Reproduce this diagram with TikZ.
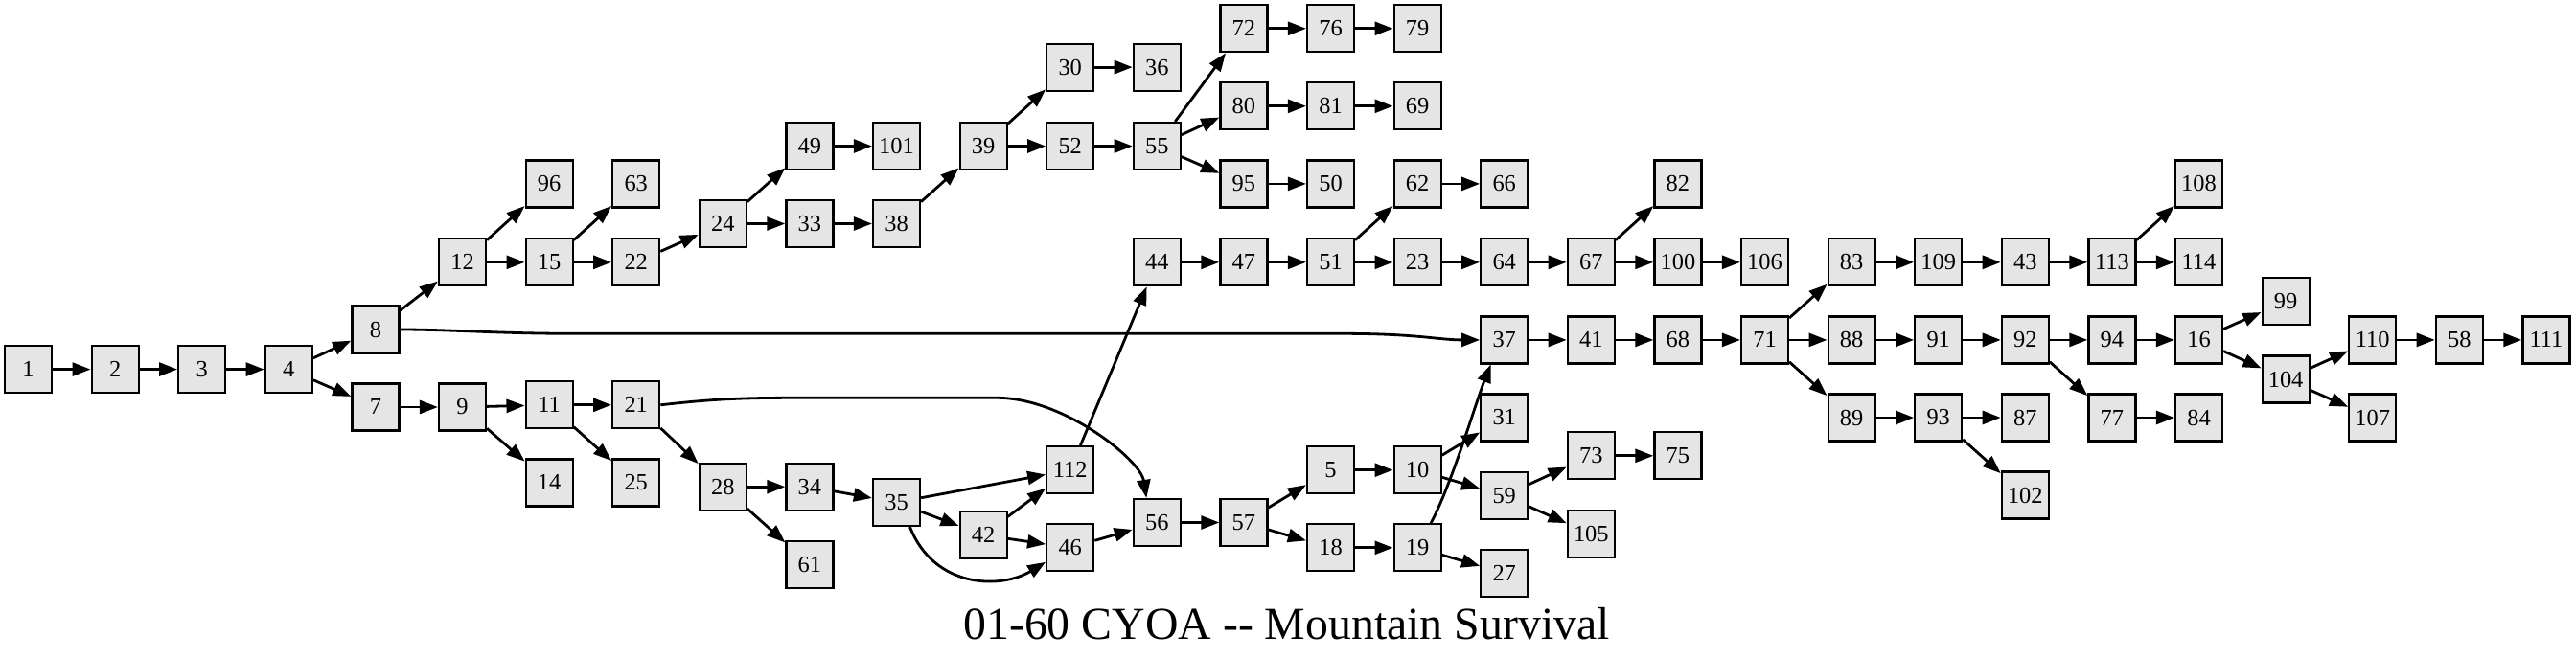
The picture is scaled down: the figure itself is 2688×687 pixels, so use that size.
\documentclass[tikz,border=0pt]{standalone}
\usepackage{fontspec}
\setmainfont{Liberation Serif}
\usetikzlibrary{arrows.meta}
\definecolor{boxgray}{HTML}{E5E5E5}
\newcommand\gnode[3]{\node[gbox] (n#1) at ({29.5+90.6*#2},#3) {#1};}
\begin{document}
\begin{tikzpicture}[x=0.5pt,y=-0.5pt,
  gbox/.style={draw, line width=1.1pt, fill=boxgray, minimum width=24.5pt, minimum height=24.5pt, inner sep=0pt, font=\fontsize{12.2}{14}\selectfont},
  conn/.style={line width=1.4pt, -{Triangle[length=9.5pt,width=7pt]}}]
\useasboundingbox (0,0) rectangle (2688,687);
% column 0-3
\gnode{1}{0}{385.6}
\gnode{2}{1}{385.6}
\gnode{3}{2}{385.6}
\gnode{4}{3}{385.6}
% c4
\gnode{8}{4}{344}
\gnode{7}{4}{425}
% c5
\gnode{12}{5}{273.8}
\gnode{9}{5}{425}
% c6
\gnode{96}{6}{191.9}
\gnode{15}{6}{273.8}
\gnode{11}{6}{422.8}
\gnode{14}{6}{503.9}
% c7
\gnode{63}{7}{191.9}
\gnode{22}{7}{273.8}
\gnode{21}{7}{422.8}
\gnode{25}{7}{503.9}
% c8
\gnode{24}{8}{233.5}
\gnode{28}{8}{508.2}
% c9
\gnode{49}{9}{152.5}
\gnode{33}{9}{233.5}
\gnode{34}{9}{508.2}
\gnode{61}{9}{589.3}
% c10
\gnode{101}{10}{152.5}
\gnode{38}{10}{233.5}
\gnode{35}{10}{524.5}
% c11
\gnode{39}{11}{152.5}
\gnode{42}{11}{558.6}
% c12
\gnode{30}{12}{70.1}
\gnode{52}{12}{152.5}
\gnode{112}{12}{490.7}
\gnode{46}{12}{571.8}
% c13
\gnode{36}{13}{70.1}
\gnode{55}{13}{152.5}
\gnode{44}{13}{273.8}
\gnode{56}{13}{545.5}
% c14
\gnode{72}{14}{29.8}
\gnode{80}{14}{110.8}
\gnode{95}{14}{191.9}
\gnode{47}{14}{273.8}
\gnode{57}{14}{545.5}
% c15
\gnode{76}{15}{29.8}
\gnode{81}{15}{110.8}
\gnode{50}{15}{191.9}
\gnode{51}{15}{273.8}
\gnode{5}{15}{490.7}
\gnode{18}{15}{571.8}
% c16
\gnode{79}{16}{29.8}
\gnode{69}{16}{110.8}
\gnode{62}{16}{191.9}
\gnode{23}{16}{273.8}
\gnode{10}{16}{490.7}
\gnode{19}{16}{571.8}
% c17
\gnode{66}{17}{191.9}
\gnode{64}{17}{273.8}
\gnode{37}{17}{354.9}
\gnode{31}{17}{436}
\gnode{59}{17}{517.5}
\gnode{27}{17}{598.3}
% c18
\gnode{67}{18}{273.8}
\gnode{41}{18}{354.9}
\gnode{73}{18}{475.8}
\gnode{105}{18}{557.4}
% c19
\gnode{82}{19}{191.9}
\gnode{100}{19}{273.8}
\gnode{68}{19}{354.9}
\gnode{75}{19}{475.8}
% c20
\gnode{106}{20}{273.8}
\gnode{71}{20}{354.9}
% c21
\gnode{83}{21}{273.8}
\gnode{88}{21}{354.9}
\gnode{89}{21}{436}
% c22
\gnode{109}{22}{273.8}
\gnode{91}{22}{354.9}
\gnode{93}{22}{436}
% c23
\gnode{43}{23}{273.8}
\gnode{92}{23}{354.9}
\gnode{87}{23}{436}
\gnode{102}{23}{517}
% c24
\gnode{113}{24}{273.8}
\gnode{94}{24}{354.9}
\gnode{77}{24}{436}
% c25
\gnode{108}{25}{191.9}
\gnode{114}{25}{273.8}
\gnode{16}{25}{354.9}
\gnode{84}{25}{436}
% c26
\gnode{99}{26}{314.7}
\gnode{104}{26}{396}
% c27
\gnode{110}{27}{354.9}
\gnode{107}{27}{436}
% c28-29
\gnode{58}{28}{354.9}
\gnode{111}{29}{354.9}

% straight connectors
\foreach \a/\b in {1/2, 2/3, 3/4, 4/8, 4/7, 8/12, 7/9, 12/96, 12/15, 9/11, 9/14,
  15/63, 15/22, 11/21, 11/25, 22/24, 21/28, 24/49, 24/33, 49/101, 33/38, 38/39,
  28/34, 28/61, 34/35, 39/30, 39/52, 35/112, 35/42, 42/112, 42/46, 30/36, 52/55,
  112/44, 46/56, 55/72, 55/80, 55/95, 44/47, 56/57, 72/76, 80/81, 95/50, 47/51,
  57/5, 57/18, 76/79, 81/69, 51/62, 51/23, 5/10, 18/19, 62/66, 23/64, 10/31,
  10/59, 19/27, 64/67, 37/41, 59/73, 59/105, 67/82, 67/100, 41/68, 73/75,
  100/106, 68/71, 71/83, 71/88, 71/89, 83/109, 88/91, 89/93, 109/43, 91/92,
  93/87, 93/102, 43/113, 92/94, 92/77, 113/108, 113/114, 94/16, 77/84, 16/99,
  16/104, 104/110, 104/107, 110/58, 58/111}
  \draw[conn] (n\a) -- (n\b);

% curved connectors
\draw[conn] (n8.east) .. controls (470,344) and (520,348.3) .. (600,348.3) -- (1400,348.3) .. controls (1480,348.3) and (1500,354.9) .. (n37.west);
\draw[conn] (n21.east) .. controls (740,417) and (770,415.3) .. (830,415.3) -- (1040,415.3) .. controls (1110,415.3) and (1190,480) .. ([xshift=-5.5pt]n56.north);
\draw[conn] ([xshift=7pt]n35.south) .. controls (975,615) and (1045,615) .. ([yshift=-7.5pt]n46.west);
\draw[conn] ([xshift=7pt]n19.north) .. controls (1515,505) and (1540,420) .. ([xshift=-7pt]n37.south);

\node[anchor=base, inner sep=0pt, font=\fontsize{23.9}{28}\selectfont] (title) at (1342.5,667) {01-60 CYOA -\kern0pt- Mountain Survival};
\end{tikzpicture}
\end{document}
